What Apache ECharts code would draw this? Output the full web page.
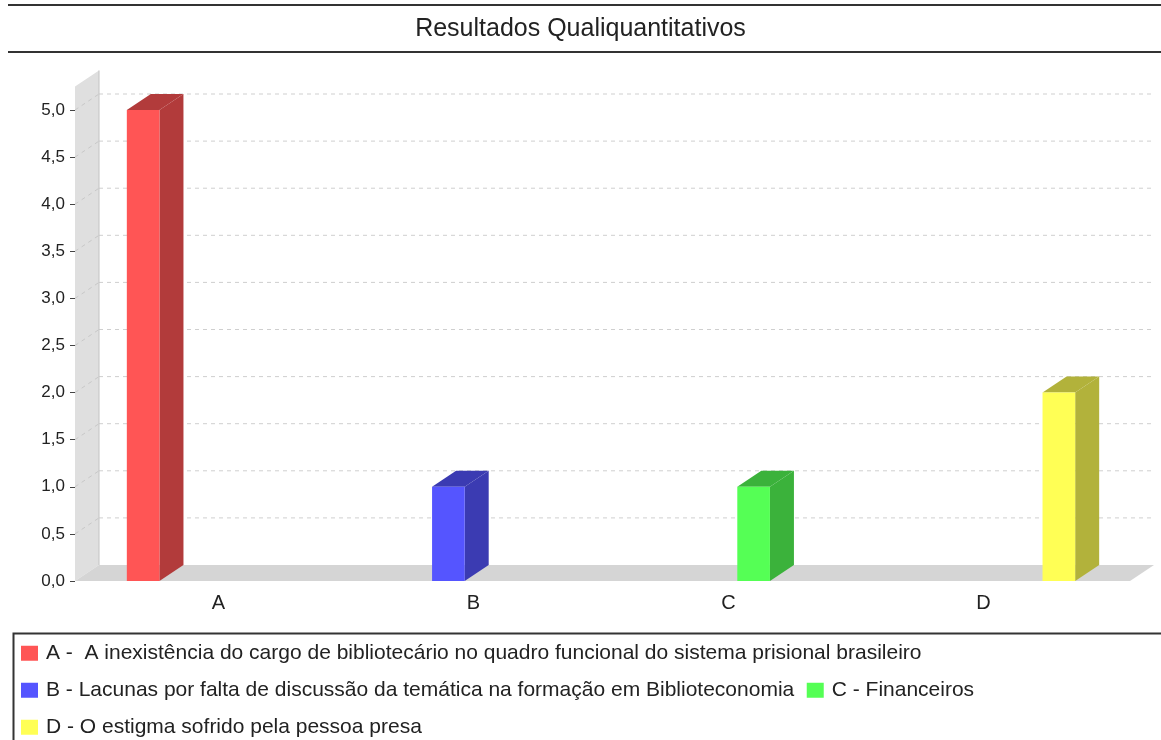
<!DOCTYPE html>
<html>
<head>
<meta charset="utf-8">
<script src="https://cdn.jsdelivr.net/npm/echarts@6/dist/echarts.min.js"></script>
<style>
  html, body { margin: 0; padding: 0; background: #ffffff; }
  #chart { width: 1161px; height: 740px; }
</style>
</head>
<body>
<div id="chart"></div>
<script>
// Categories, series and values
const categories = ['A', 'B', 'C', 'D'];
const seriesNames = [
  'A -  A inexistência do cargo de bibliotecário no quadro funcional do sistema prisional brasileiro',
  'B - Lacunas por falta de discussão da temática na formação em Biblioteconomia',
  'C - Financeiros',
  'D - O estigma sofrido pela pessoa presa'
];
const valuesA = [5, null, null, null];
const valuesB = [null, 1, null, null];
const valuesC = [null, null, 1, null];
const valuesD = [null, null, null, 2];
const yTicks = [0, 0.5, 1, 1.5, 2, 2.5, 3, 3.5, 4, 4.5, 5];
const yMax = 5.25;

// Styling
const FONT = "'Liberation Sans', Arial, sans-serif";
const faceColors = ['#ff5555', '#5555ff', '#55ff55', '#ffff55'];
const shadeColors = ['#b23b3b', '#3b3bb2', '#3bb23b', '#b2b23b'];
const DX = 24, DY = 16;          // 3D depth offset
const SLOT = 0.197, BAR = 0.128; // fractions of a category band
const MARGIN_L = 16, MARGIN_R = 19;

// Walls, floor and dashed grid of the 3D plot
function renderFrame(params, api) {
  const cs = params.coordSys;
  const left = cs.x - MARGIN_L;
  const right = cs.x + cs.width + MARGIN_R;
  const y0 = api.coord([0, 0])[1];
  const yTop = api.coord([0, yMax])[1];
  const children = [
    { type: 'polygon', shape: { points: [[left, yTop], [left + DX, yTop - DY], [left + DX, y0 - DY], [left, y0]] },
      style: { fill: '#dfdfdf' } },
    { type: 'polygon', shape: { points: [[left, y0], [left + DX, y0 - DY], [right + DX, y0 - DY], [right, y0]] },
      style: { fill: '#d5d5d5' } }
  ];
  yTicks.forEach(function (t) {
    if (t === 0) return;
    const y = api.coord([0, t])[1];
    children.push({ type: 'line', shape: { x1: left + DX, y1: y - DY, x2: right + DX, y2: y - DY },
      style: { stroke: '#cfcfcf', lineWidth: 1, lineDash: [4, 4] } });
    children.push({ type: 'line', shape: { x1: left, y1: y, x2: left + DX, y2: y - DY },
      style: { stroke: '#c8c8c8', lineWidth: 1, lineDash: [4, 4] } });
  });
  children.push({ type: 'line', shape: { x1: left + DX, y1: yTop - DY, x2: left + DX, y2: y0 - DY },
    style: { stroke: '#c2c2c2', lineWidth: 1 } });
  return { type: 'group', children: children };
}

// One 3D bar: front face, top and right side
function makeBarRenderer(k) {
  return function (params, api) {
    const cat = api.value(0);
    const top = api.coord([cat, api.value(1)]);
    const base = api.coord([cat, 0]);
    const band = api.size([1, 0])[0];
    const cx = top[0] + (k - 1.5) * band * SLOT;
    const w = band * BAR;
    const x0 = cx - w / 2, x1 = cx + w / 2;
    const yT = top[1], yB = base[1];
    return {
      type: 'group',
      children: [
        { type: 'polygon', shape: { points: [[x1, yT], [x1 + DX, yT - DY], [x1 + DX, yB - DY], [x1, yB]] },
          style: { fill: shadeColors[k] } },
        { type: 'polygon', shape: { points: [[x0, yT], [x0 + DX, yT - DY], [x1 + DX, yT - DY], [x1, yT]] },
          style: { fill: shadeColors[k] } },
        { type: 'rect', shape: { x: x0, y: yT, width: w, height: yB - yT },
          style: { fill: faceColors[k] } }
      ]
    };
  };
}

const seriesValues = [valuesA, valuesB, valuesC, valuesD];
const barSeries = seriesValues.map(function (vals, k) {
  return {
    type: 'custom',
    name: seriesNames[k],
    z: 3,
    itemStyle: { color: faceColors[k] },
    encode: { x: 0, y: 1 },
    data: vals.map(function (v, i) { return [i, v]; }).filter(function (d) { return d[1] != null; }),
    renderItem: makeBarRenderer(k)
  };
});

const chart = echarts.init(document.getElementById('chart'), null, { renderer: 'canvas' });
chart.setOption({
  animation: false,
  backgroundColor: '#ffffff',
  title: {
    text: 'Resultados Qualiquantitativos',
    left: 'center',
    top: 17,
    padding: 0,
    textStyle: { fontFamily: FONT, fontSize: 25, fontWeight: 'normal', color: '#222222' }
  },
  graphic: [
    { type: 'rect', shape: { x: 8, y: 4, width: 1160, height: 2 }, style: { fill: '#333333' } },
    { type: 'rect', shape: { x: 8, y: 51, width: 1160, height: 2 }, style: { fill: '#333333' } },
    { type: 'rect', shape: { x: 13.5, y: 633.5, width: 1160, height: 120 },
      style: { fill: 'none', stroke: '#333333', lineWidth: 2 } }
  ],
  legend: {
    data: seriesNames,
    left: 21,
    top: 641,
    width: 1130,
    padding: 0,
    icon: 'rect',
    itemWidth: 17,
    itemHeight: 15,
    itemGap: 12.5,
    selectedMode: false,
    textStyle: { fontFamily: FONT, fontSize: 21, color: '#222222', lineHeight: 24.5, padding: [0, 0, 0, 3] }
  },
  grid: { left: 91, right: 50, top: 86.45, bottom: 159, containLabel: false },
  xAxis: {
    type: 'category',
    data: categories,
    axisLine: { show: false },
    axisTick: { show: false },
    axisLabel: { fontFamily: FONT, fontSize: 20, color: '#222222', margin: 12 }
  },
  yAxis: {
    type: 'value',
    min: 0,
    max: yMax,
    interval: 0.5,
    offset: MARGIN_L,
    axisLine: { show: false },
    axisTick: { show: true, length: 5, customValues: yTicks, lineStyle: { color: '#444444' } },
    axisLabel: {
      customValues: yTicks,
      fontFamily: FONT, fontSize: 17, color: '#222222', margin: 10,
      formatter: function (v) { return v.toFixed(1).replace('.', ','); }
    },
    splitLine: { show: false }
  },
  series: [
    { type: 'custom', z: 1, silent: true, data: [[0, 0]], encode: { x: 0, y: 1 }, renderItem: renderFrame }
  ].concat(barSeries)
});
</script>
</body>
</html>
